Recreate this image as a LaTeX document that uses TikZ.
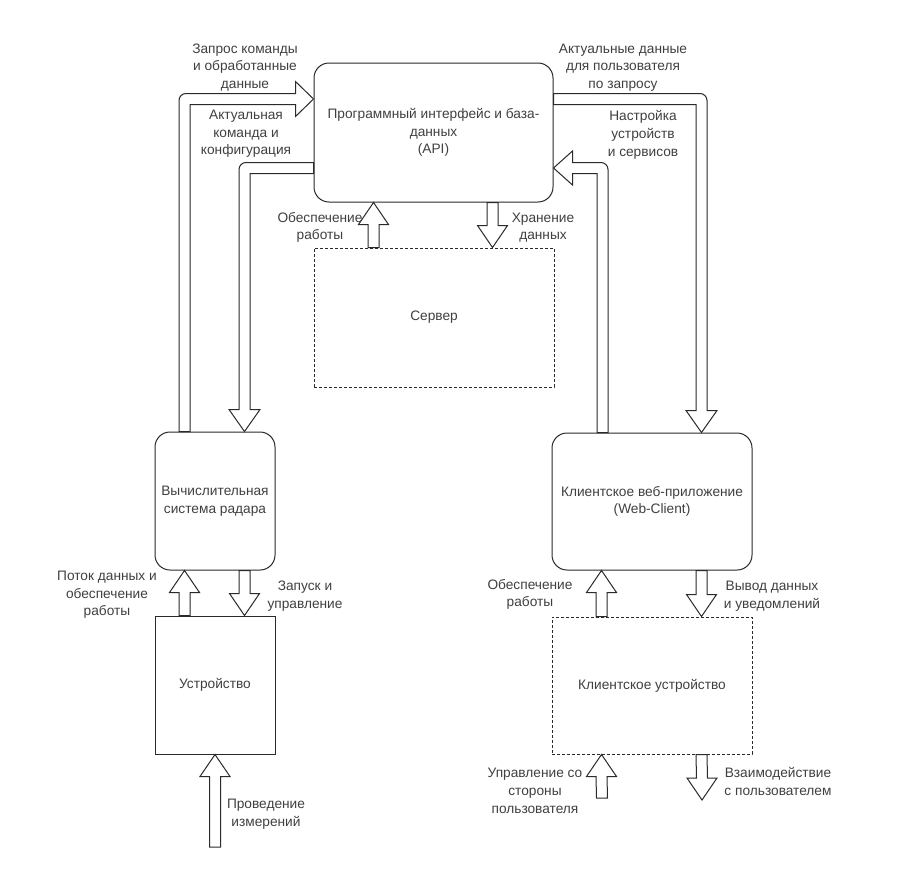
\documentclass[tikz,border=0pt]{standalone}
\usepackage{fontspec}
\setmainfont{Liberation Sans}
\usetikzlibrary{calc}
\definecolor{ln}{HTML}{2A2A2A}
\definecolor{tx}{HTML}{404040}
\tikzset{
  base/.style={draw=ln, line width=1pt, align=center, text=tx, inner sep=0pt,
    font=\fontsize{13.7}{17.7}\selectfont},
  rbox/.style={base, rounded corners=15pt},
  sbox/.style={base},
  dbox/.style={base, dash pattern=on 2.6pt off 2.4pt},
  flex/.style={draw=ln, fill=white, line width=1pt, line join=miter},
  lbl/.style={align=center, text=tx, inner sep=0pt, font=\fontsize{13.7}{17.7}\selectfont},
}
% vertical hollow arrow: tail, tip, signed head length (+ = pointing up)
\newcommand\flexv[3]{\draw[flex] ($(#1)+(-5.5,0)$) -- ($(#2)+(-5.5,#3)$) -- ($(#2)+(-15,#3)$) -- (#2) -- ($(#2)+(15,#3)$) -- ($(#2)+(5.5,#3)$) -- ($(#1)+(5.5,0)$) -- cycle;}
\begin{document}
\begin{tikzpicture}[x=1pt,y=-1pt]
\useasboundingbox[fill=white] (0,0) rectangle (902,878);

% boxes
\node[rbox, minimum width=239pt, minimum height=139pt] (api) at (433.5,132.5) {Программный интерфейс и база-\\данных\\(API)};
\node[dbox, minimum width=240pt, minimum height=139pt] (server) at (434,317.5) {Сервер};
\node[rbox, minimum width=120pt, minimum height=138pt] (radar) at (215,501) {Вычислительная\\система радара};
\node[sbox, minimum width=120pt, minimum height=138pt] (device) at (215,685) {Устройство};
\node[rbox, minimum width=200pt, minimum height=137pt] (web) at (652,501.5) {Клиентское веб-приложение\\(Web-Client)};
\node[dbox, minimum width=200pt, minimum height=137pt] (cdev) at (652,685.5) {Клиентское устройство};

% anchor points for arrows
\coordinate (s1) at ($(server.north west)+(60,0)$);
\coordinate (a1) at ($(api.south west)+(60,0)$);
\coordinate (a2) at ($(api.south west)+(179,0)$);
\coordinate (s2) at ($(server.north west)+(179,0)$);
\coordinate (d1) at ($(device.north west)+(30,0)$);
\coordinate (r1) at ($(radar.south west)+(30,0)$);
\coordinate (r2) at ($(radar.south west)+(90,0)$);
\coordinate (d2) at ($(device.north west)+(90,0)$);
\coordinate (meas) at (215,847);
\coordinate (c1) at ($(cdev.north west)+(50,0)$);
\coordinate (w1) at ($(web.south west)+(50,0)$);
\coordinate (w2) at ($(web.south west)+(150,0)$);
\coordinate (c2) at ($(cdev.north west)+(150,0)$);
\coordinate (usr1) at (602,798);
\coordinate (c3) at ($(cdev.south west)+(50,0)$);
\coordinate (c4) at ($(cdev.south west)+(150,0)$);
\coordinate (usr2) at (702,800);
\coordinate (rt1) at ($(radar.north west)+(30,0)$);
\coordinate (ap1) at ($(api.north west)+(0,36.5)$);
\coordinate (ap2) at ($(api.north west)+(0,105.5)$);
\coordinate (rt2) at ($(radar.north west)+(90,0)$);
\coordinate (ap3) at ($(api.north east)+(0,36.5)$);
\coordinate (wt1) at ($(web.north west)+(150,0)$);
\coordinate (wt2) at ($(web.north west)+(51,0)$);
\coordinate (ap4) at ($(api.north east)+(0,105.5)$);

% straight arrows
\flexv{s1}{a1}{22}
\flexv{a2}{s2}{-22}
\flexv{d1}{r1}{22}
\flexv{r2}{d2}{-22}
\flexv{meas}{device.south}{22}
\flexv{c1}{w1}{22}
\flexv{w2}{c2}{-22}
\flexv{usr1}{c3}{22}
\flexv{c4}{usr2}{-22}

% bent arrow: radar -> API (left, upper)
\draw[flex] let \p1=(rt1), \p2=(ap1) in
  (\x1-5.5pt,\y1) -- (\x1-5.5pt,\y2-1.5pt)
  .. controls (\x1-5.5pt,\y2+2.37pt) and (\x1-2.37pt,\y2+5.5pt) .. (\x1+1.5pt,\y2+5.5pt)
  -- (\x2-18pt,\y2+5.5pt) -- (\x2-18pt,\y2+17.5pt) -- (\x2,\y2)
  -- (\x2-18pt,\y2-17.5pt) -- (\x2-18pt,\y2-5.5pt) -- (\x1+5.5pt,\y2-5.5pt)
  -- (\x1+5.5pt,\y1) -- cycle;
% bent arrow: API -> radar (left, lower)
\draw[flex] let \p1=(ap2), \p2=(rt2) in
  (\x1,\y1+5.5pt) -- (\x2+1.5pt,\y1+5.5pt)
  .. controls (\x2-2.37pt,\y1+5.5pt) and (\x2-5.5pt,\y1+2.37pt) .. (\x2-5.5pt,\y1-1.5pt)
  -- (\x2-5.5pt,\y2+22pt) -- (\x2-15.5pt,\y2+22pt) -- (\x2,\y2)
  -- (\x2+15.5pt,\y2+22pt) -- (\x2+5.5pt,\y2+22pt) -- (\x2+5.5pt,\y1-5.5pt)
  -- (\x1,\y1-5.5pt) -- cycle;
% bent arrow: API -> web client (right, upper)
\draw[flex] let \p1=(ap3), \p2=(wt1) in
  (\x1,\y1+5.5pt) -- (\x2-1.5pt,\y1+5.5pt)
  .. controls (\x2+2.37pt,\y1+5.5pt) and (\x2+5.5pt,\y1+2.37pt) .. (\x2+5.5pt,\y1-1.5pt)
  -- (\x2+5.5pt,\y2+22pt) -- (\x2+15.5pt,\y2+22pt) -- (\x2,\y2)
  -- (\x2-15.5pt,\y2+22pt) -- (\x2-5.5pt,\y2+22pt) -- (\x2-5.5pt,\y1-5.5pt)
  -- (\x1,\y1-5.5pt) -- cycle;
% bent arrow: web client -> API (right, lower)
\draw[flex] let \p1=(wt2), \p2=(ap4) in
  (\x1+5.5pt,\y1) -- (\x1+5.5pt,\y2-1.5pt)
  .. controls (\x1+5.5pt,\y2+2.37pt) and (\x1+2.37pt,\y2+5.5pt) .. (\x1-1.5pt,\y2+5.5pt)
  -- (\x2+19pt,\y2+5.5pt) -- (\x2+19pt,\y2+17pt) -- (\x2,\y2)
  -- (\x2+19pt,\y2-17pt) -- (\x2+19pt,\y2-5.5pt) -- (\x1-5.5pt,\y2-5.5pt)
  -- (\x1-5.5pt,\y1) -- cycle;

% labels
\node[lbl] (l1) at (245,67.5) {Запрос команды\\и обработанные\\данные};
\node[lbl] (l2) at (246,134) {Актуальная\\команда и\\конфигурация};
\node[lbl] (l3) at (623,67.5) {Актуальные данные\\для пользователя\\по запросу};
\node[lbl] (l4) at (643,135) {Настройка\\устройств\\и сервисов};
\node[lbl] (l5) at (320,227.5) {Обеспечение\\работы};
\node[lbl] (l6) at (543,227.5) {Хранение\\данных};
\node[lbl] (l7) at (107,595) {Поток данных и\\обеспечение\\работы};
\node[lbl] (l8) at (305,596) {Запуск и\\управление};
\node[lbl] (l9) at (266,814) {Проведение\\измерений};
\node[lbl] (l10) at (530,594.5) {Обеспечение\\работы};
\node[lbl] (l11) at (772,596) {Вывод данных\\и уведомлений};
\node[lbl] (l12) at (535,791) {Управление со\\стороны\\пользователя};
\node[lbl] (l13) at (778,781.5) {Взаимодействие\\с пользователем};
\end{tikzpicture}
\end{document}
